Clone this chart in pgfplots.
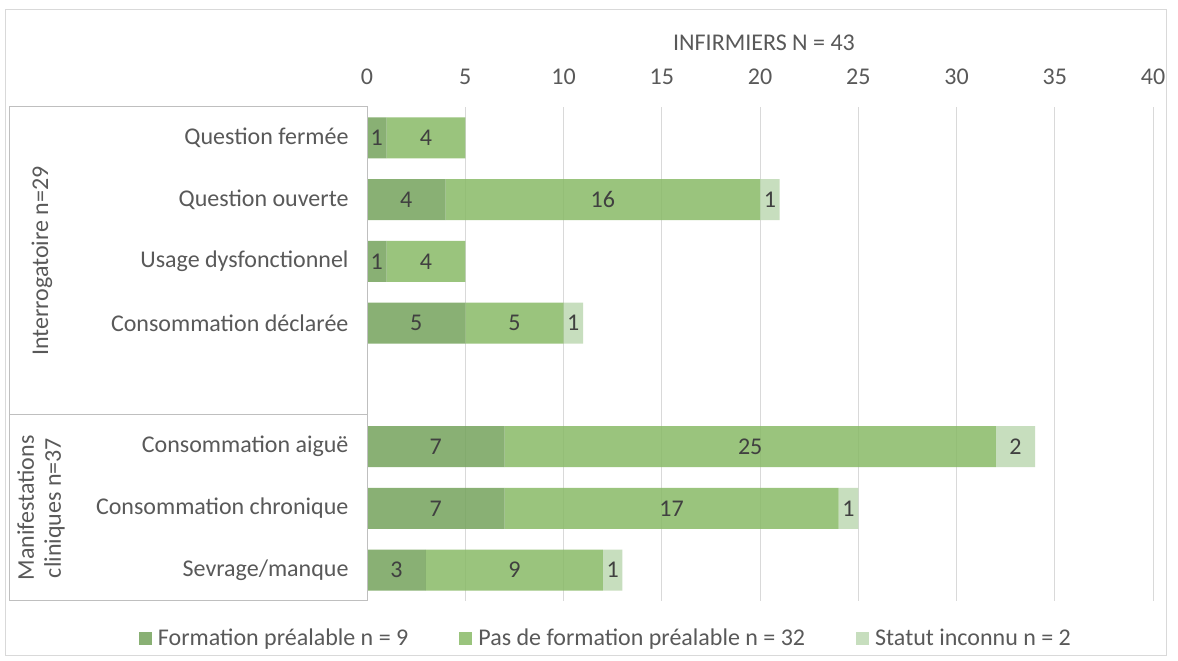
\documentclass[border=0pt]{standalone}
\usepackage{pgfplots}
\pgfplotsset{compat=1.18}
\usepackage{pgfplotstable}
\usepackage{fontspec}
\setmainfont{Carlito}
\definecolor{cDark}{RGB}{117,163,92}
\definecolor{cMed}{RGB}{137,186,103}
\definecolor{cLight}{RGB}{190,217,179}
\definecolor{txt}{RGB}{89,89,89}
\definecolor{lbl}{RGB}{64,64,64}
\definecolor{gridc}{RGB}{217,217,217}
\definecolor{boxc}{RGB}{191,191,191}
\newcommand{\fs}{\fontsize{24}{27}\selectfont}

\pgfplotstableread{
y a b c
7 1 4 0
6 4 16 1
5 1 4 0
4 5 5 1
2 7 25 2
1 7 17 1
0 3 9 1
}\bars

\pgfplotstableread{
x y l
0.5 7 1
3 7 4
2 6 4
12 6 16
20.5 6 1
0.5 5 1
3 5 4
2.5 4 5
7.5 4 5
10.5 4 1
3.5 2 7
19.5 2 25
33 2 2
3.5 1 7
15.5 1 17
24.5 1 1
1.5 0 3
7.5 0 9
12.5 0 1
}\labels

\pgfplotsset{common/.style={
  scale only axis, width=786pt, height=494pt,
  at={(367pt,60pt)}, anchor=south west,
  xmin=0, xmax=40, ymin=-0.5, ymax=7.5,
}}

\begin{document}
\begin{tikzpicture}[x=1pt,y=1pt]
\useasboundingbox (0,0) rectangle (1178,661);
\fill[white] (0,0) rectangle (1178,661);
\draw[gridc, line width=1pt] (5,5) rectangle (1166,651);
\begin{axis}[common,
  xbar stacked, bar width=41pt,
  axis line style={draw=none},
  major tick length=0pt,
  xtick={0,5,...,40},
  xticklabel pos=upper,
  xmajorgrids, grid style={gridc, line width=1pt},
  ytick={0,1,2,4,5,6,7},
  yticklabels={Sevrage/manque, Consommation chronique, Consommation aiguë, Consommation déclarée, Usage dysfonctionnel, Question ouverte, Question fermée},
  tick label style={font=\fs, text=txt},
  /pgf/number format/assume math mode=true,
  xticklabel style={yshift=19pt},
  yticklabel style={xshift=-15pt},
  legend style={draw=none, fill=none, at={(axis description cs:0.304,-0.075)}, anchor=center, legend columns=3, font=\fs, text=txt, /tikz/every even column/.append style={column sep=49pt}},
  legend image code/.code={\fill[#1] (0pt,-6.5pt) rectangle (13pt,6.5pt); \path (17pt,0pt);},
]
\addplot[fill=cDark, draw=none, fill opacity=0.85] table[x=a,y=y]{\bars};
\addplot[fill=cMed, draw=none, fill opacity=0.85] table[x=b,y=y]{\bars};
\addplot[fill=cLight, draw=none, fill opacity=0.85] table[x=c,y=y]{\bars};
\legend{Formation préalable n = 9, Pas de formation préalable n = 32, Statut inconnu n = 2}
\end{axis}
\begin{axis}[common, hide axis]
\addplot[draw=none, mark=none, nodes near coords, point meta=explicit symbolic,
  every node near coord/.append style={font=\fs, text=lbl, anchor=center}] table[x=x,y=y,meta=l]{\labels};
\end{axis}
\draw[boxc, line width=1pt] (9,60) -- (367,60) -- (367,554) -- (9,554) -- cycle;
\draw[boxc, line width=1pt] (9,246) -- (367,246);
\node[font=\fs, text=txt] at (764,618) {INFIRMIERS N = 43};
\node[rotate=90, font=\fs, text=txt] at (42,400) {Interrogatoire n=29};
\node[rotate=90, font=\fs, text=txt, align=center] at (41,153) {Manifestations\\cliniques n=37};
\end{tikzpicture}
\end{document}
